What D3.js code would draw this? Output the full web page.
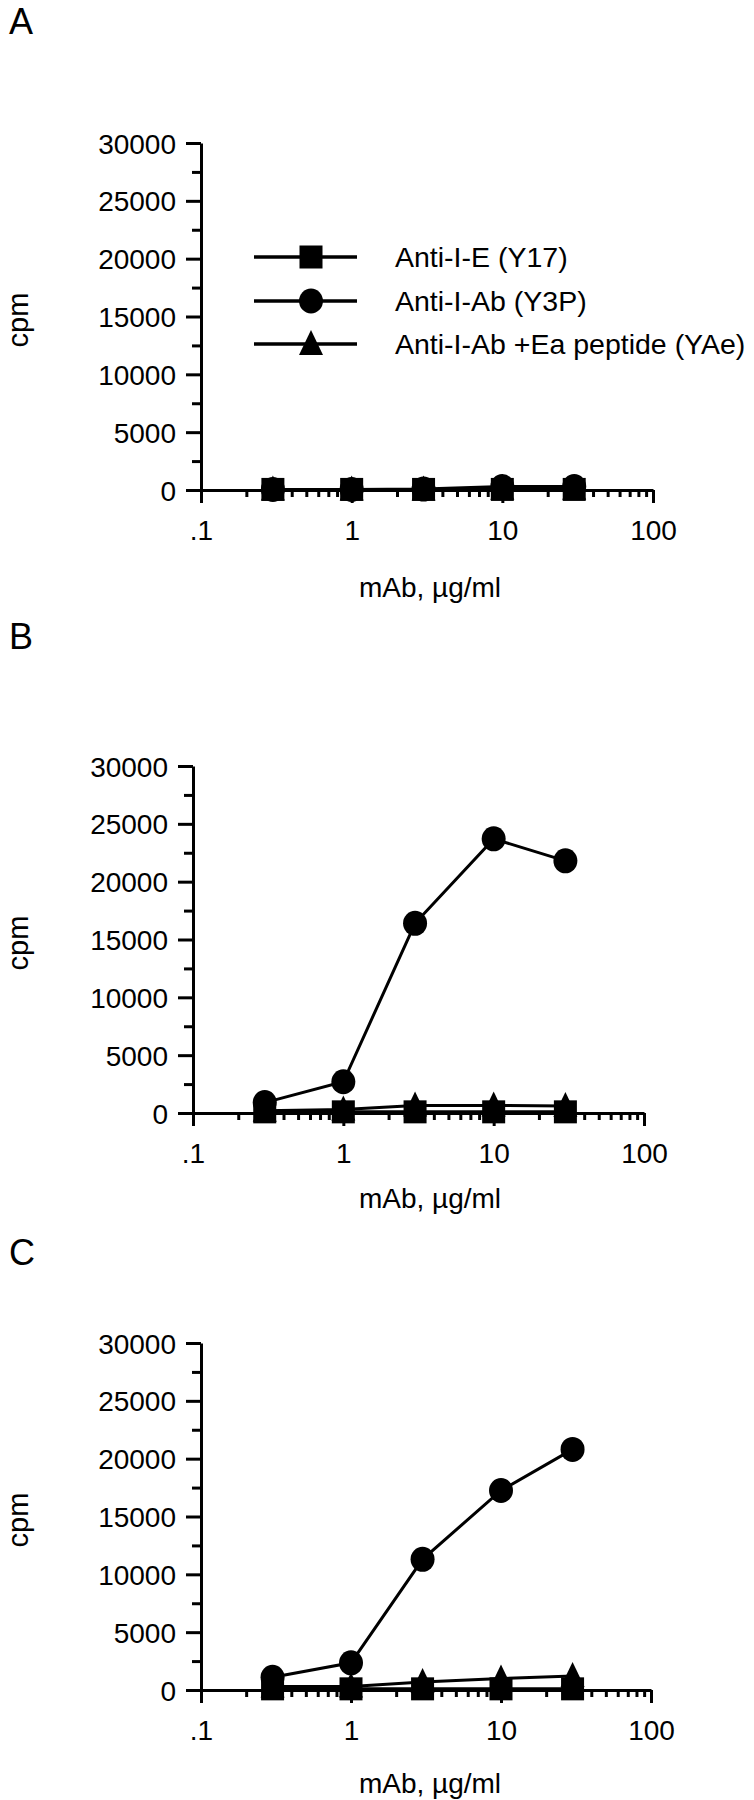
<!DOCTYPE html>
<html>
<head>
<meta charset="utf-8">
<script src="https://cdn.jsdelivr.net/npm/d3@7"></script>
<style>
  body { margin: 0; background: #fff; }
  svg text { font-family: "Liberation Sans", Arial, Helvetica, sans-serif; fill: #000; }
</style>
</head>
<body>
<div id="chart"></div>
<script>
// doses (mAb, ug/ml) shared by every series
const doses = [0.3, 1, 3, 10, 30];

// panel A
const aY17 = [50, 50, 50, 50, 50];
const aY3P = [50, 50, 80, 300, 300];
const aYAe = [50, 50, 50, 100, 100];

// panel B
const bY17 = [100, 100, 100, 100, 100];
const bY3P = [900, 2700, 16400, 23700, 21800];
const bYAe = [200, 300, 650, 650, 600];

// panel C
const cY17 = [100, 100, 100, 100, 100];
const cY3P = [1100, 2350, 11300, 17250, 20800];
const cYAe = [300, 300, 700, 1000, 1200];

const yTicks = [0, 5000, 10000, 15000, 20000, 25000, 30000];
const yMinor = [2500, 7500, 12500, 17500, 22500, 27500];
const xTicks = [0.1, 1, 10, 100];
const xTickLabels = ['.1', '1', '10', '100'];
const xMinor = [0.2, 0.3, 0.4, 0.5, 0.6, 0.7, 0.8, 0.9,
                2, 3, 4, 5, 6, 7, 8, 9,
                20, 30, 40, 50, 60, 70, 80, 90];

const seriesNames = ['Anti-I-E (Y17)', 'Anti-I-Ab (Y3P)', 'Anti-I-Ab +Ea peptide (YAe)'];
const seriesShapes = ['square', 'circle', 'triangle'];

const Figure = function(){
  const W = 754, H = 1800, FS = 28;

  const svg = d3.select('#chart')
    .append('svg')
    .attr('width', W)
    .attr('height', H);

  const marker = (g, shape, x, y) => {
    if (shape === 'square') {
      g.append('rect').attr('x', x - 11.5).attr('y', y - 11.5)
       .attr('width', 23).attr('height', 23).attr('fill', '#000');
    } else if (shape === 'circle') {
      g.append('ellipse').attr('cx', x).attr('cy', y)
       .attr('rx', 12).attr('ry', 12.5).attr('fill', '#000');
    } else {
      g.append('path')
       .attr('d', `M${x},${y - 14}L${x + 12},${y + 11}L${x - 12},${y + 11}Z`)
       .attr('fill', '#000');
    }
  };

  const panel = (p) => {
    const g = svg.append('g');

    const x = d3.scaleLog().domain([0.1, 100]).range([p.x0, p.x1]);
    const y = d3.scaleLinear().domain([0, 30000]).range([p.y0, p.y0 - 347]);

    g.append('text')
     .attr('x', 9).attr('y', p.labelY)
     .style('font-size', '36px')
     .text(p.name);

    // y axis, major + minor
    g.append('g')
     .attr('transform', `translate(${p.x0},0)`)
     .call(d3.axisLeft(y).tickValues(yTicks).tickSize(15).tickSizeOuter(0)
             .tickPadding(10).tickFormat(d3.format('d')))
     .call(a => a.selectAll('text').style('font-size', FS + 'px').attr('dy', '0.36em'));
    g.append('g')
     .attr('transform', `translate(${p.x0},0)`)
     .call(d3.axisLeft(y).tickValues(yMinor).tickSize(9).tickSizeOuter(0).tickFormat(''))
     .call(a => a.select('.domain').remove());

    // x axis, log
    g.append('g')
     .attr('transform', `translate(0,${p.y0})`)
     .call(d3.axisBottom(x).tickValues(xTicks).tickSize(13).tickSizeOuter(0)
             .tickPadding(17).tickFormat((d, i) => xTickLabels[i]))
     .call(a => a.selectAll('text').style('font-size', FS + 'px'));
    g.append('g')
     .attr('transform', `translate(0,${p.y0})`)
     .call(d3.axisBottom(x).tickValues(xMinor).tickSize(7).tickSizeOuter(0).tickFormat(''))
     .call(a => a.select('.domain').remove());

    g.selectAll('.domain, .tick line')
     .attr('stroke', '#000')
     .attr('stroke-width', 3);

    g.append('text')
     .attr('transform', `translate(28,${p.y0 - 170}) rotate(-90)`)
     .attr('text-anchor', 'middle')
     .style('font-size', '29px')
     .text('cpm');

    g.append('text')
     .attr('x', 430).attr('y', p.xlabelY)
     .attr('text-anchor', 'middle')
     .style('font-size', FS + 'px')
     .text('mAb, \u00b5g/ml');

    // circles first, then triangles, squares on top
    const order = [1, 2, 0];
    order.forEach(k => {
      const vals = p.series[k];
      const pts = doses.map((d, i) => [x(d), y(vals[i])]);
      g.append('path')
       .attr('d', d3.line()(pts))
       .attr('fill', 'none')
       .attr('stroke', '#000')
       .attr('stroke-width', 3);
      pts.forEach(q => marker(g, seriesShapes[k], q[0], q[1]));
    });

    if (p.legend) {
      const rowsY = [257, 301, 344];
      seriesNames.forEach((name, k) => {
        g.append('line')
         .attr('x1', 254).attr('x2', 357)
         .attr('y1', rowsY[k]).attr('y2', rowsY[k])
         .attr('stroke', '#000').attr('stroke-width', 3.5);
        marker(g, seriesShapes[k], 311, rowsY[k]);
        g.append('text')
         .attr('x', 395).attr('y', rowsY[k])
         .attr('dy', '0.36em')
         .style('font-size', '28.5px')
         .text(name);
      });
    }
  };

  const load = () => {
    panel({name: 'A', labelY: 34, x0: 201, x1: 653, y0: 490, xlabelY: 597,
           series: [aY17, aY3P, aYAe], legend: true});
    panel({name: 'B', labelY: 649, x0: 193, x1: 644, y0: 1113, xlabelY: 1208,
           series: [bY17, bY3P, bYAe], legend: false});
    panel({name: 'C', labelY: 1265, x0: 201, x1: 651, y0: 1690, xlabelY: 1793,
           series: [cY17, cY3P, cYAe], legend: false});
  };

  return { load: load };
}();
document.addEventListener('DOMContentLoaded', Figure.load);
</script>
</body>
</html>
